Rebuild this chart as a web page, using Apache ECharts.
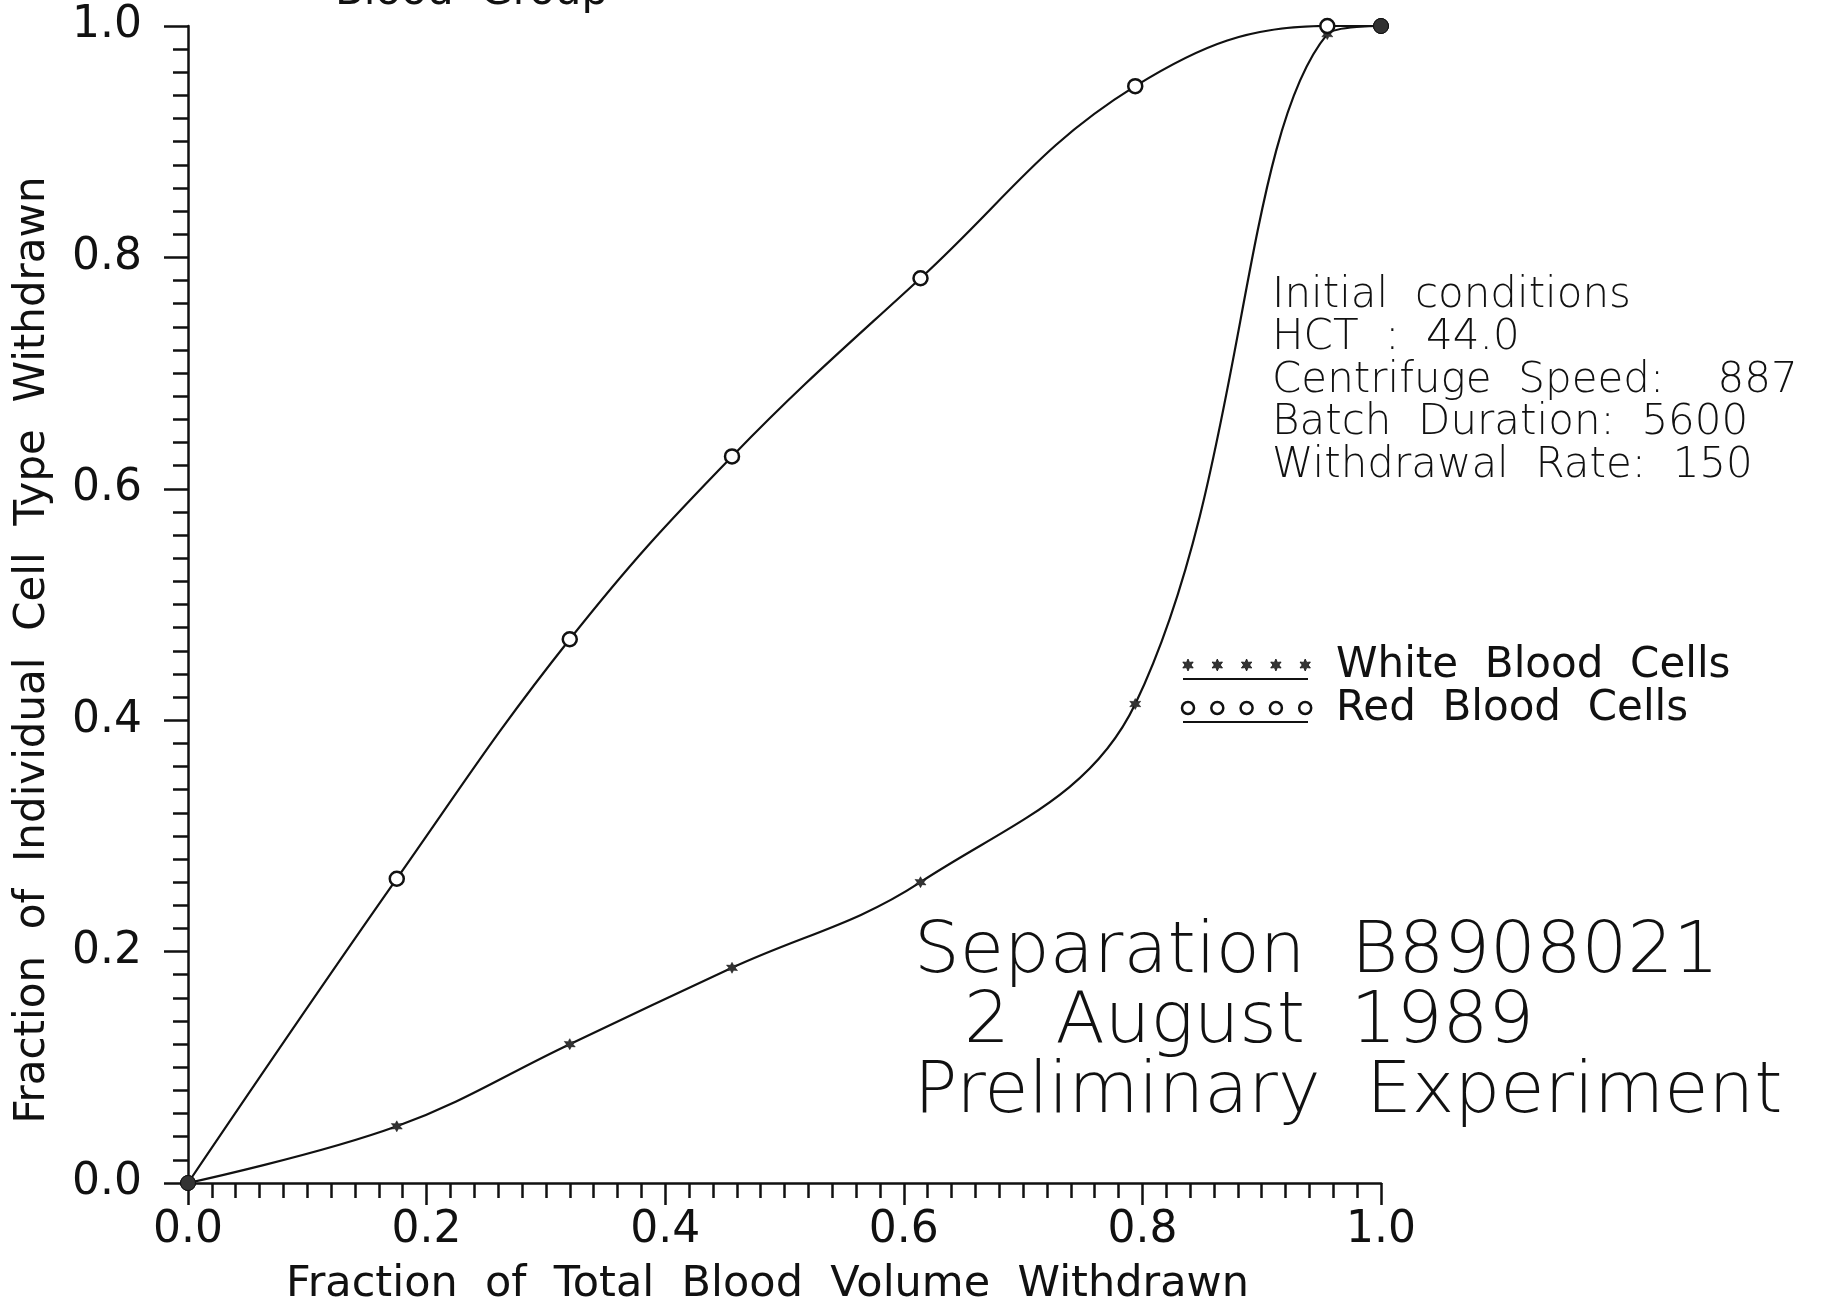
<!DOCTYPE html>
<html>
<head>
<meta charset="utf-8">
<title>Blood cell separation B8908021</title>
<script src="https://cdn.jsdelivr.net/npm/echarts@6/dist/echarts.min.js"></script>
<style>
  html, body { margin: 0; padding: 0; background: #fff; }
  #chart { width: 1822px; height: 1298px; }
</style>
</head>
<body>
<div id="chart"></div>
<script>
// Fraction of total blood volume withdrawn (x) for each sample
const volumeFraction = [0, 0.175, 0.32, 0.456, 0.614, 0.794, 0.955, 1.0];
// Fraction of each cell type withdrawn at those samples
const whiteCells = [0, 0.049, 0.12, 0.186, 0.26, 0.414, 0.993, 1.0];
const redCells = [0, 0.263, 0.47, 0.628, 0.782, 0.948, 1.0, 1.0];
const tickLabels = ['0.0', '0.2', '0.4', '0.6', '0.8', '1.0'];

const infoLines = [
  'Initial  conditions',
  'HCT  :  44.0',
  'Centrifuge  Speed:    887',
  'Batch  Duration:  5600',
  'Withdrawal  Rate:  150'
];
const titleLines = [
  'Separation  B8908021',
  '2  August  1989',
  'Preliminary  Experiment'
];
const yTitle = 'Fraction  of  Individual  Cell  Type  Withdrawn';

const FONT = '"DejaVu Sans", "Liberation Sans", sans-serif';
const INK = '#111';
const STAR = 'path://M0,-10 L2.6,-4.5 L8.7,-5 L5.2,0 L8.7,5 L2.6,4.5 L0,10 L-2.6,4.5 L-8.7,5 L-5.2,0 L-8.7,-5 L-2.6,-4.5 Z';

function buildSeriesData(ys, symbol, size, hollow) {
  return volumeFraction.map((x, i) => {
    const end = i === 0 || i === volumeFraction.length - 1;
    if (end) {
      return { value: [x, ys[i]], symbol: 'circle', symbolSize: 15,
               itemStyle: { color: '#333', borderColor: INK, borderWidth: 1 } };
    }
    return { value: [x, ys[i]], symbol: symbol, symbolSize: size,
             itemStyle: hollow ? { color: '#fff', borderColor: INK, borderWidth: 2.5 }
                               : { color: '#333', borderColor: INK, borderWidth: 0.5 } };
  });
}

// Six-pointed star used as the white-cell marker in the legend
function starPoints(cx, cy, r) {
  const pts = [];
  for (let k = 0; k < 12; k++) {
    const a = -Math.PI / 2 + k * Math.PI / 6;
    const rr = k % 2 === 0 ? r : r * 0.5;
    pts.push([cx + rr * Math.cos(a), cy + rr * Math.sin(a)]);
  }
  return pts;
}

const chart = echarts.init(document.getElementById('chart'), null, { renderer: 'canvas' });

const textEls = [];
infoLines.forEach((t, i) => {
  textEls.push({ type: 'text', style: { text: t, x: 1272, y: 296 + i * 42.5, font: '200 42px ' + FONT,
    fill: INK, textAlign: 'left', textVerticalAlign: 'middle' } });
});
const titleX = [914, 964, 914];
titleLines.forEach((t, i) => {
  textEls.push({ type: 'text', style: { text: t, x: titleX[i], y: 953 + i * 70, font: '200 72px ' + FONT,
    fill: INK, textAlign: 'left', textVerticalAlign: 'middle' } });
});

// Legend: five markers over an underline, then the series name
function legendRow(y, name, symbolKind) {
  const els = [];
  for (let k = 0; k < 5; k++) {
    const cx = 1188 + k * 29.3;
    if (symbolKind === 'circle') {
      els.push({ type: 'circle', shape: { cx: cx, cy: y, r: 6 },
        style: { fill: '#fff', stroke: INK, lineWidth: 2.5 } });
    } else {
      els.push({ type: 'polygon', shape: { points: starPoints(cx, y, 6) },
        style: { fill: '#333', stroke: INK, lineWidth: 0.8 } });
    }
  }
  els.push({ type: 'line', shape: { x1: 1183, y1: y + 14, x2: 1308, y2: y + 14 },
    style: { stroke: INK, lineWidth: 2 } });
  els.push({ type: 'text', style: { text: name, x: 1336, y: y + 1, font: '42px ' + FONT,
    fill: INK, textAlign: 'left', textVerticalAlign: 'middle' } });
  return els;
}

const option = {
  backgroundColor: '#fff',
  animation: false,
  grid: { left: 188, top: 26, width: 1193, height: 1157, containLabel: false, outerBoundsMode: 'none' },
  xAxis: {
    type: 'value', min: 0, max: 1, interval: 0.2,
    name: 'Fraction  of  Total  Blood  Volume  Withdrawn',
    nameLocation: 'middle', nameGap: 80,
    nameTextStyle: { fontFamily: FONT, fontSize: 43, color: INK, padding: [0, 34, 0, 0] },
    axisLine: { show: true, lineStyle: { color: INK, width: 2.5 } },
    axisTick: { show: true, inside: false, length: 22, lineStyle: { color: INK, width: 2.5 } },
    minorTick: { show: true, splitNumber: 10, length: 15, lineStyle: { color: INK, width: 2.5 } },
    splitLine: { show: false },
    axisLabel: { margin: 26, fontFamily: FONT, fontSize: 44, color: INK,
      formatter: (v) => tickLabels[Math.round(v * 5)] }
  },
  yAxis: {
    type: 'value', min: 0, max: 1, interval: 0.2,
    axisLine: { show: true, lineStyle: { color: INK, width: 2.5 } },
    axisTick: { show: true, inside: false, length: 24, lineStyle: { color: INK, width: 2.5 } },
    minorTick: { show: true, splitNumber: 10, length: 15, lineStyle: { color: INK, width: 2.5 } },
    splitLine: { show: false },
    axisLabel: { margin: 46, fontFamily: FONT, fontSize: 44, color: INK,
      formatter: (v) => tickLabels[Math.round(v * 5)] }
  },
  series: [
    {
      name: 'White Blood Cells', type: 'line', smooth: 0.38,
      data: buildSeriesData(whiteCells, STAR, 11, false),
      lineStyle: { color: INK, width: 2.2 }, z: 3
    },
    {
      name: 'Red Blood Cells', type: 'line', smooth: 0.4,
      data: buildSeriesData(redCells, 'circle', 14, true),
      lineStyle: { color: INK, width: 2.2 }, z: 4
    }
  ],
  graphic: [
    { type: 'text', style: { text: 'Blood  Group', x: 335, y: -7, font: '42px ' + FONT,
      fill: INK, textAlign: 'left', textVerticalAlign: 'middle' } },
    { type: 'text', x: 33, y: 650, rotation: Math.PI / 2,
      style: { text: yTitle, x: 0, y: 0, font: '42px ' + FONT, fill: INK,
        textAlign: 'center', textVerticalAlign: 'middle' } },
    ...textEls,
    ...legendRow(665, 'White  Blood  Cells', 'star'),
    ...legendRow(708, 'Red  Blood  Cells', 'circle')
  ]
};

chart.setOption(option);
</script>
</body>
</html>
